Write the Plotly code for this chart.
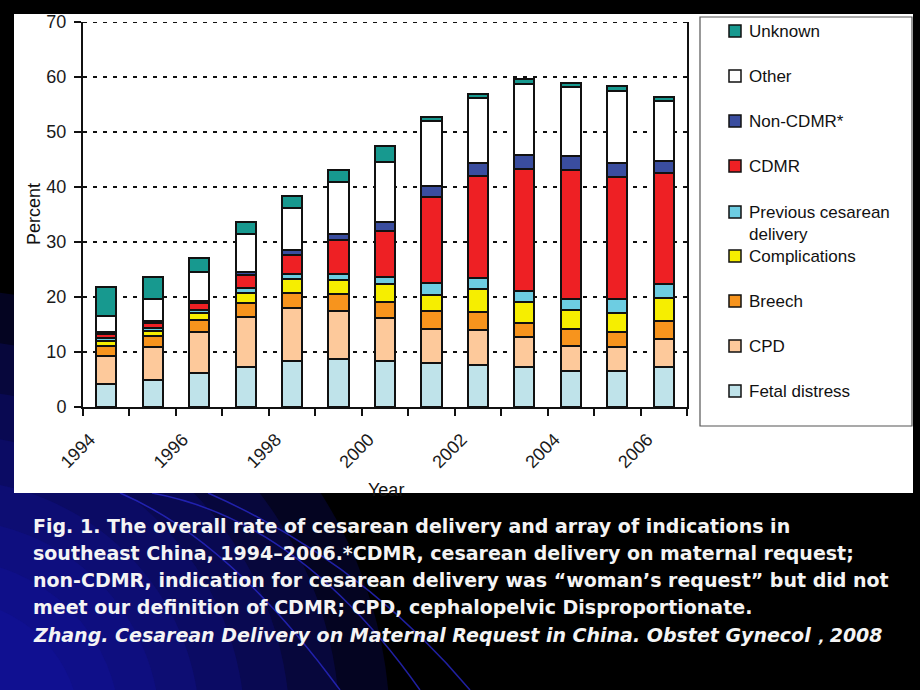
import plotly.graph_objects as go

# ---------------- data ----------------
years = [1994, 1995, 1996, 1997, 1998, 1999, 2000, 2001, 2002, 2003, 2004, 2005, 2006]

series_names = ["Fetal distress", "CPD", "Breech", "Complications",
                "Previous cesarean delivery", "CDMR", "Non-CDMR*", "Other", "Unknown"]
series_colors = ["#bfe3ea", "#fdc99b", "#f7941d", "#f6ee00",
                 "#6dcde2", "#ee2024", "#3a4d9f", "#ffffff", "#17998f"]

fetal_distress = [4.1, 4.9, 6.1, 7.3, 8.4, 8.8, 8.4, 8.0, 7.7, 7.2, 6.6, 6.5, 7.2]
cpd            = [5.1, 6.1, 7.6, 9.1, 9.6, 8.7, 7.8, 6.2, 6.3, 5.5, 4.5, 4.4, 5.2]
breech         = [1.9, 2.0, 2.1, 2.5, 2.7, 3.0, 2.9, 3.2, 3.2, 2.6, 3.0, 2.7, 3.2]
complications  = [0.9, 0.9, 1.3, 1.8, 2.5, 2.6, 3.2, 3.0, 4.3, 3.8, 3.6, 3.5, 4.2]
previous_cs    = [0.5, 0.4, 0.6, 0.9, 0.9, 1.1, 1.4, 2.1, 1.9, 2.0, 2.0, 2.5, 2.6]
cdmr           = [0.7, 0.9, 1.2, 2.4, 3.6, 6.1, 8.3, 15.6, 18.6, 22.1, 23.4, 22.3, 20.1]
non_cdmr       = [0.4, 0.4, 0.4, 0.6, 0.8, 1.2, 1.6, 2.1, 2.3, 2.6, 2.5, 2.4, 2.2]
other          = [2.9, 4.0, 5.2, 6.9, 7.6, 9.4, 11.0, 11.8, 11.8, 13.0, 12.6, 13.2, 10.9]
unknown        = [5.3, 4.0, 2.6, 2.1, 2.3, 2.2, 2.9, 0.7, 0.8, 0.8, 0.8, 0.9, 0.8]

series_values = [fetal_distress, cpd, breech, complications, previous_cs,
                 cdmr, non_cdmr, other, unknown]

x_tick_years = list(range(1994, 2008))
x_tick_labels = [str(y) if y % 2 == 0 and y < 2007 else "" for y in x_tick_years]
y_tick_values = [0, 10, 20, 30, 40, 50, 60, 70]

caption_lines = [
    "Fig. 1. The overall rate of cesarean delivery and array of indications in",
    "southeast China, 1994–2006.*CDMR, cesarean delivery on maternal request;",
    "non-CDMR, indication for cesarean delivery was “woman’s request” but did not",
    "meet our definition of CDMR; CPD, cephalopelvic Disproportionate.",
    "<i>Zhang. Cesarean Delivery on Maternal Request in China. Obstet Gynecol，2008</i>",
]

# ---------------- layout geometry ----------------
W, H = 920, 690
PL, PR, PT, PB = 83, 687, 22, 407  # plot area in pixels


def px(x):
    return (x - PL) / (PR - PL)


def py(y):
    return (PB - y) / (PB - PT)


FONT = "Liberation Sans, Arial, sans-serif"
BAR_W = 0.434

fig = go.Figure()
for name, color, vals in zip(series_names, series_colors, series_values):
    fig.add_trace(go.Bar(
        x=years, y=vals, name=name,
        width=BAR_W, offset=0.5 - BAR_W / 2,
        marker=dict(color=color, line=dict(color="#111111", width=2)),
        showlegend=False,
    ))

shapes = []
# blue gradient glow at lower-left of the slide background
for i, r in enumerate([440, 390, 340, 295, 250, 210, 170, 130]):
    cx, cy = -50, 730
    shapes.append(dict(type="circle", xref="paper", yref="paper",
                       x0=px(cx - r), x1=px(cx + r), y0=py(cy + r), y1=py(cy - r),
                       fillcolor="rgba(24,24,185,0.18)", line=dict(width=0), layer="below"))
# thin arcs
for (sx, ex, c1x, c1y) in [(120, 340, 230, 540), (152, 420, 300, 520), (208, 470, 360, 560)]:
    path = "M {:.4f},{:.4f} Q {:.4f},{:.4f} {:.4f},{:.4f}".format(
        px(sx), py(493), px(c1x), py(c1y), px(ex), py(690))
    shapes.append(dict(type="path", xref="paper", yref="paper", path=path,
                       line=dict(color="rgba(40,40,200,0.8)", width=1.5), layer="below"))
# white chart panel
shapes.append(dict(type="rect", xref="paper", yref="paper",
                   x0=px(14), x1=px(913), y0=py(493), y1=py(14),
                   fillcolor="white", line=dict(width=0), layer="below"))
# top dashed gridline at 70
shapes.append(dict(type="line", xref="paper", yref="y", x0=0, x1=1, y0=70, y1=70,
                   line=dict(color="#111111", width=2, dash="4px,6px"), layer="above"))
# legend box
shapes.append(dict(type="rect", xref="paper", yref="paper",
                   x0=px(700), x1=px(912), y0=py(426), y1=py(17),
                   fillcolor="white", line=dict(color="#555555", width=1.2), layer="below"))

annotations = []
legend_centers = [31, 76, 121, 166, 212, 256, 301, 346, 391]
for k, (name, color) in enumerate(zip(series_names[::-1], series_colors[::-1])):
    cyp = legend_centers[k]
    shapes.append(dict(type="rect", xref="paper", yref="paper",
                       x0=px(729), x1=px(741), y0=py(cyp + 6), y1=py(cyp - 6),
                       fillcolor=color, line=dict(color="#111111", width=1.5), layer="above"))
    annotations.append(dict(xref="paper", yref="paper", x=px(747), y=py(cyp - 11),
                            xanchor="left", yanchor="top", showarrow=False, align="left",
                            text=name.replace("cesarean delivery", "cesarean<br>delivery"),
                            font=dict(family=FONT, size=17, color="#111111")))

# axis titles
annotations.append(dict(xref="paper", yref="paper", x=px(22), y=py(214), textangle=-90,
                        text="Percent", showarrow=False,
                        font=dict(family=FONT, size=18, color="#111111")))
annotations.append(dict(xref="paper", yref="paper", x=px(386), y=py(478), yanchor="top",
                        text="Year", showarrow=False,
                        font=dict(family=FONT, size=18, color="#111111")))

# caption
caption_base = [532, 559, 586, 613, 641]
for line, base in zip(caption_lines, caption_base):
    annotations.append(dict(xref="paper", yref="paper", x=px(31), y=py(base - 6),
                            xanchor="left", yanchor="middle", showarrow=False, align="left",
                            text="<b>" + line + "</b>",
                            font=dict(family="DejaVu Sans, Liberation Sans, sans-serif",
                                      size=19, color="#f4f4f4")))

fig.update_layout(
    width=W, height=H,
    margin=dict(l=PL, r=W - PR, t=PT, b=H - PB, pad=0),
    paper_bgcolor="#000000", plot_bgcolor="white",
    barmode="stack", bargap=0,
    showlegend=False,
    shapes=shapes, annotations=annotations,
    xaxis=dict(range=[1994, 2007], tickmode="array", tickvals=x_tick_years,
               ticktext=x_tick_labels, tickangle=-45, ticks="outside", ticklen=7,
               tickwidth=2, tickcolor="#111111", showline=True, linewidth=2,
               linecolor="#111111", showgrid=False, zeroline=False,
               ticklabelshift=7, ticklabelstandoff=6,
               tickfont=dict(family=FONT, size=18, color="#1a1a1a")),
    yaxis=dict(range=[0, 70], tickmode="array", tickvals=y_tick_values,
               ticks="outside", ticklen=7, tickwidth=2, tickcolor="#111111",
               showline=True, mirror=True, linewidth=2, linecolor="#111111",
               showgrid=True, gridcolor="#111111", gridwidth=2, griddash="4px,6px",
               zeroline=False, ticklabelstandoff=4,
               tickfont=dict(family=FONT, size=18, color="#1a1a1a")),
)

fig.write_html(
    "out.html",
    config={"displayModeBar": False},
    post_script=("document.body.style.margin='0';"
                 "document.body.style.padding='0';"
                 "document.body.style.overflow='hidden';"
                 "document.body.style.background='#000';"),
)
